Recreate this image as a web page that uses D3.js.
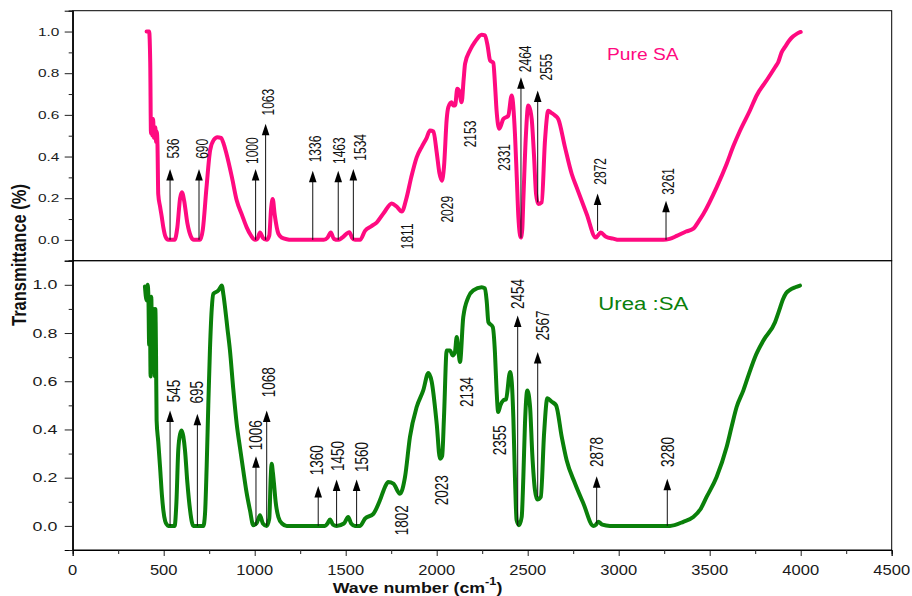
<!DOCTYPE html>
<html>
<head>
<meta charset="utf-8">
<script src="https://cdn.jsdelivr.net/npm/d3@7"></script>
<style>
  html, body { margin: 0; padding: 0; background: #fff; }
  svg { display: block; font-family: Arial, "Liberation Sans", sans-serif; }
</style>
</head>
<body>
<svg id="chart" width="912" height="596"></svg>
<script>
// ---------------- DATA ----------------
const xTickValues = [0, 500, 1000, 1500, 2000, 2500, 3000, 3500, 4000, 4500];
const yTickValues = [0.0, 0.2, 0.4, 0.6, 0.8, 1.0];

const seriesNames = ["Pure SA", "Urea :SA"];

// Pure SA spectrum (wave number, transmittance)
const pureWave = [406,420,426,430,434,438,442,446,450,454,458,462,466,470,480,490,498,510,525,560,575,590,600,612,630,650,665,700,715,735,755,775,795,815,830,846,875,901,930,956,980,1002,1015,1029,1045,1066,1080,1090,1099,1110,1130,1150,1176,1200,1380,1400,1418,1435,1459,1480,1520,1535,1551,1579,1606,1640,1670,1710,1753,1780,1808,1835,1860,1890,1920,1945,1963,1982,2000,2015,2028,2040,2055,2064,2082,2091,2101,2113,2121,2137,2148,2156,2183,2210,2247,2265,2280,2293,2311,2320,2329,2344,2366,2393,2412,2430,2440,2449,2462,2470,2476,2490,2503,2515,2522,2535,2546,2558,2577,2595,2613,2630,2650,2668,2705,2742,2769,2824,2874,2885,2901,2930,2970,3000,3245,3280,3319,3370,3410,3440,3465,3538,3593,3630,3667,3721,3758,3813,3860,3877,3895,3914,3940,3959,3980,4000];
const pureT = [1.0,1.0,0.85,0.51,0.56,0.5,0.58,0.49,0.5,0.54,0.47,0.52,0.45,0.22,0.16,0.107,0.06,0.015,0.0,0.0,0.06,0.2,0.228,0.19,0.08,0.015,0.0,0.0,0.05,0.25,0.43,0.48,0.493,0.49,0.46,0.41,0.3,0.19,0.12,0.06,0.02,0.0,0.005,0.035,0.01,0.0,0.02,0.15,0.196,0.12,0.03,0.01,0.003,0.0,0.0,0.01,0.035,0.005,0.0,0.01,0.037,0.01,0.0,0.0,0.043,0.065,0.083,0.13,0.175,0.16,0.136,0.204,0.3,0.396,0.45,0.49,0.525,0.52,0.42,0.32,0.284,0.35,0.58,0.637,0.66,0.645,0.645,0.725,0.72,0.661,0.77,0.846,0.91,0.95,0.985,0.982,0.93,0.862,0.85,0.75,0.62,0.533,0.58,0.596,0.693,0.509,0.3,0.107,0.011,0.05,0.19,0.5,0.645,0.62,0.58,0.4,0.22,0.172,0.18,0.477,0.62,0.61,0.597,0.58,0.444,0.316,0.252,0.124,0.011,0.02,0.035,0.015,0.006,0.0,0.0,0.005,0.019,0.04,0.054,0.09,0.124,0.252,0.364,0.45,0.525,0.621,0.693,0.766,0.83,0.854,0.9,0.926,0.96,0.977,0.99,0.998];

// Urea : SA spectrum
const ureaWave = [397,406,412,416,420,424,428,432,436,439,443,447,451,454,458,461,470,480,490,498,508,516,525,560,570,580,590,599,608,617,630,645,655,663,718,727,736,745,754,764,773,800,812,819,828,837,850,864,882,901,920,937,955,974,992,1010,1029,1045,1066,1080,1088,1093,1100,1106,1115,1130,1150,1176,1386,1400,1414,1430,1450,1490,1514,1530,1551,1579,1606,1652,1688,1715,1734,1762,1798,1826,1853,1890,1926,1954,1972,2000,2018,2030,2040,2055,2073,2088,2100,2110,2120,2128,2146,2174,2201,2247,2265,2275,2284,2308,2320,2329,2338,2350,2366,2381,2403,2412,2421,2430,2439,2452,2467,2476,2485,2498,2513,2525,2540,2553,2572,2590,2608,2632,2656,2687,2714,2760,2806,2861,2875,2888,2910,2952,3282,3355,3410,3450,3483,3538,3593,3620,3648,3685,3720,3749,3795,3859,3880,3904,3920,3941,3970,3996];
const ureaT = [0.993,0.935,1.0,0.95,0.75,0.9,0.62,0.95,0.7,0.9,0.65,0.9,0.62,0.9,0.7,0.438,0.35,0.244,0.13,0.065,0.02,0.007,0.0,0.0,0.1,0.314,0.38,0.396,0.37,0.314,0.18,0.065,0.015,0.0,0.0,0.05,0.244,0.5,0.728,0.9,0.963,0.976,0.99,0.997,0.96,0.907,0.82,0.728,0.57,0.424,0.32,0.231,0.14,0.065,0.003,0.01,0.044,0.01,0.0,0.03,0.2,0.258,0.22,0.175,0.1,0.037,0.01,0.0,0.0,0.01,0.027,0.005,0.0,0.01,0.037,0.01,0.0,0.0,0.03,0.05,0.106,0.16,0.182,0.175,0.133,0.203,0.369,0.493,0.562,0.634,0.6,0.424,0.279,0.29,0.45,0.728,0.728,0.707,0.72,0.783,0.72,0.68,0.866,0.949,0.977,0.99,0.985,0.93,0.845,0.825,0.72,0.562,0.472,0.5,0.521,0.525,0.638,0.6,0.452,0.2,0.024,0.003,0.037,0.2,0.424,0.562,0.494,0.3,0.148,0.109,0.12,0.383,0.529,0.515,0.5,0.369,0.272,0.176,0.093,0.0,0.005,0.017,0.005,0.0,0.0,0.017,0.037,0.07,0.12,0.203,0.327,0.41,0.493,0.562,0.64,0.7,0.769,0.845,0.89,0.942,0.965,0.979,0.99,0.997];

// Peak annotations: label, arrow wave number, arrow base, arrow tip, label wave number, label start (transmittance)
const pureLabels  = ["536","690","1000","1063","1336","1463","1534","1811","2029","2153","2331","2464","2555","2872","3261"];
const pureArrowX  = [535, 694, 1005, 1060, 1319, 1459, 1542, null, null, null, null, 2463, 2555, 2884, 3260];
const pureArrowY0 = [0, 0, 0, 0, 0, 0, 0, null, null, null, null, 0.01, 0.18, 0.043, 0];
const pureArrowY1 = [0.34, 0.34, 0.34, 0.557, 0.332, 0.332, 0.34, null, null, null, null, 0.78, 0.717, 0.223, 0.188];
const pureLabelX  = [553, 709, 984, 1075, 1331, 1465, 1579, 1838, 2055, 2183, 2371, 2485, 2601, 2897, 3273];
const pureLabelY  = [0.39, 0.389, 0.364, 0.597, 0.372, 0.364, 0.38, -0.045, 0.083, 0.444, 0.332, 0.805, 0.765, 0.265, 0.217];

const ureaLabels  = ["545","695","1006","1068","1360","1450","1560","1802","2023","2134","2355","2454","2567","2878","3280"];
const ureaArrowX  = [535, 685, 1007, 1066, 1349, 1450, 1560, null, null, null, null, 2445, 2555, 2879, 3267];
const ureaArrowY0 = [0, 0, 0, 0, 0, 0, 0, null, null, null, null, 0, 0.12, 0.01, 0];
const ureaArrowY1 = [0.479, 0.465, 0.289, 0.479, 0.165, 0.192, 0.192, null, null, null, null, 0.873, 0.721, 0.206, 0.196];
const ureaLabelX  = [553, 681, 1002, 1075, 1341, 1456, 1584, 1808, 2027, 2165, 2344, 2445, 2580, 2879, 3269];
const ureaLabelY  = [0.513, 0.508, 0.314, 0.534, 0.21, 0.228, 0.224, -0.039, 0.086, 0.493, 0.293, 0.9, 0.769, 0.244, 0.244];

// legend anchor (data coordinates)
const legendX = [2936, 2888];
const legendY = [0.862, 0.894];

// ---------------- LAYOUT ----------------
const svg = d3.select("#chart");
const left = 72.7, right = 891.7;
const x = d3.scaleLinear().domain([0, 4500]).range([left, right]);
const yTop = d3.scaleLinear().domain([-0.1, 1.1]).range([260.7, 10.7]);
const yBot = d3.scaleLinear().domain([-0.1, 1.1]).range([550, 260.7]);

const PINK = "#ff0a80";
const GREEN = "#0a800a";

const panels = [
  { y: yTop, wave: pureWave, t: pureT, color: PINK, labels: pureLabels, ax: pureArrowX, ay0: pureArrowY0, ay1: pureArrowY1, lx: pureLabelX, ly: pureLabelY,
    tickFont: 11, tickScale: 1.4, tickRight: 59.3, annFont: 12, legendFont: 16, name: seriesNames[0], legX: legendX[0], legY: legendY[0] },
  { y: yBot, wave: ureaWave, t: ureaT, color: GREEN, labels: ureaLabels, ax: ureaArrowX, ay0: ureaArrowY0, ay1: ureaArrowY1, lx: ureaLabelX, ly: ureaLabelY,
    tickFont: 13, tickScale: 1.37, tickRight: 57.3, annFont: 13.5, legendFont: 18.5, name: seriesNames[1], legX: legendX[1], legY: legendY[1] }
];

const minorY = d3.range(-0.1, 1.15, 0.2).map(v => +v.toFixed(2)); // -0.1,0.1,...,1.1

panels.forEach((p, i) => {
  const g = svg.append("g");
  const [y0px, y1px] = p.y.range();
  // frame
  g.append("rect")
    .attr("x", left).attr("y", y1px)
    .attr("width", right - left).attr("height", y0px - y1px)
    .attr("fill", "none").attr("stroke", "#000").attr("stroke-width", 1);

  // y axis major
  const axMaj = g.append("g").attr("transform", `translate(${left},0)`)
    .call(d3.axisLeft(p.y).tickValues(yTickValues).tickSize(8).tickFormat(""));
  const axMin = g.append("g").attr("transform", `translate(${left},0)`)
    .call(d3.axisLeft(p.y).tickValues(minorY).tickSize(4).tickFormat(""));
  [axMaj, axMin].forEach(a => {
    a.select(".domain").attr("stroke", "#000");
    a.selectAll(".tick line").attr("stroke", "#222");
  });
  // y tick labels
  g.selectAll("text.ytl").data(yTickValues).join("text")
    .attr("class", "ytl")
    .attr("transform", d => `translate(${p.tickRight},${p.y(d)}) scale(${p.tickScale},1)`)
    .attr("dy", "0.36em")
    .attr("text-anchor", "end")
    .attr("font-size", p.tickFont)
    .attr("fill", "#1a1a1a")
    .text(d => d3.format(".1f")(d));

  // spectrum
  const line = d3.line().x((d, k) => x(p.wave[k])).y((d, k) => p.y(p.t[k])).curve(d3.curveMonotoneX);
  g.append("path")
    .attr("d", line(p.t))
    .attr("fill", "none")
    .attr("stroke", p.color)
    .attr("stroke-width", 4)
    .attr("stroke-linejoin", "round")
    .attr("stroke-linecap", "round");

  // arrows
  p.labels.forEach((lab, k) => {
    if (p.ax[k] !== null) {
      const cx = x(p.ax[k]);
      const tipY = p.y(p.ay1[k]);
      const baseY = p.y(p.ay0[k]);
      g.append("line")
        .attr("x1", cx).attr("x2", cx)
        .attr("y1", baseY).attr("y2", tipY + 8)
        .attr("stroke", "#111").attr("stroke-width", 1);
      g.append("path")
        .attr("d", `M${cx},${tipY} L${cx - 3.8},${tipY + 11.5} L${cx + 3.8},${tipY + 11.5} Z`)
        .attr("fill", "#000");
    }
    g.append("text")
      .attr("transform", `translate(${x(p.lx[k])},${p.y(p.ly[k])}) scale(1.35,1) rotate(-90)`)
      .attr("dy", "0.36em")
      .attr("text-anchor", "start")
      .attr("font-size", p.annFont)
      .attr("fill", "#111")
      .text(lab);
  });

  // legend label
  g.append("text")
    .attr("transform", `translate(${x(p.legX)},${p.y(p.legY)}) scale(1.2,1)`)
    .attr("font-size", p.legendFont)
    .attr("fill", p.color)
    .text(p.name);
});

// x axis (bottom)
const xAxMaj = svg.append("g").attr("transform", `translate(0,${yBot.range()[0]})`)
  .call(d3.axisBottom(x).tickValues(xTickValues).tickSize(6).tickFormat(""));
const xAxMin = svg.append("g").attr("transform", `translate(0,${yBot.range()[0]})`)
  .call(d3.axisBottom(x).tickValues(d3.range(250, 4500, 500)).tickSize(4).tickFormat(""));
[xAxMaj, xAxMin].forEach(a => {
  a.select(".domain").attr("stroke", "#000");
  a.selectAll(".tick line").attr("stroke", "#222");
});
svg.selectAll("text.xtl").data(xTickValues).join("text")
  .attr("class", "xtl")
  .attr("transform", d => `translate(${x(d)},575) scale(1.18,1)`)
  .attr("text-anchor", "middle")
  .attr("font-size", 14)
  .attr("fill", "#1a1a1a")
  .text(d => d);

// axis titles
svg.append("text")
  .attr("transform", "translate(19,255) scale(1.25,1) rotate(-90)")
  .attr("text-anchor", "middle")
  .attr("dy", "0.36em")
  .attr("font-size", 16.5)
  .attr("font-weight", "bold")
  .attr("fill", "#111")
  .text("Transmittance (%)");

const xt = svg.append("text")
  .attr("transform", "translate(417.5,593) scale(1.27,1)")
  .attr("text-anchor", "middle")
  .attr("font-size", 14)
  .attr("font-weight", "bold")
  .attr("fill", "#111");
xt.append("tspan").text("Wave number (cm");
xt.append("tspan").attr("font-size", 10).attr("dy", -8).text("-1");
xt.append("tspan").attr("dy", 8).text(")");
</script>
</body>
</html>
